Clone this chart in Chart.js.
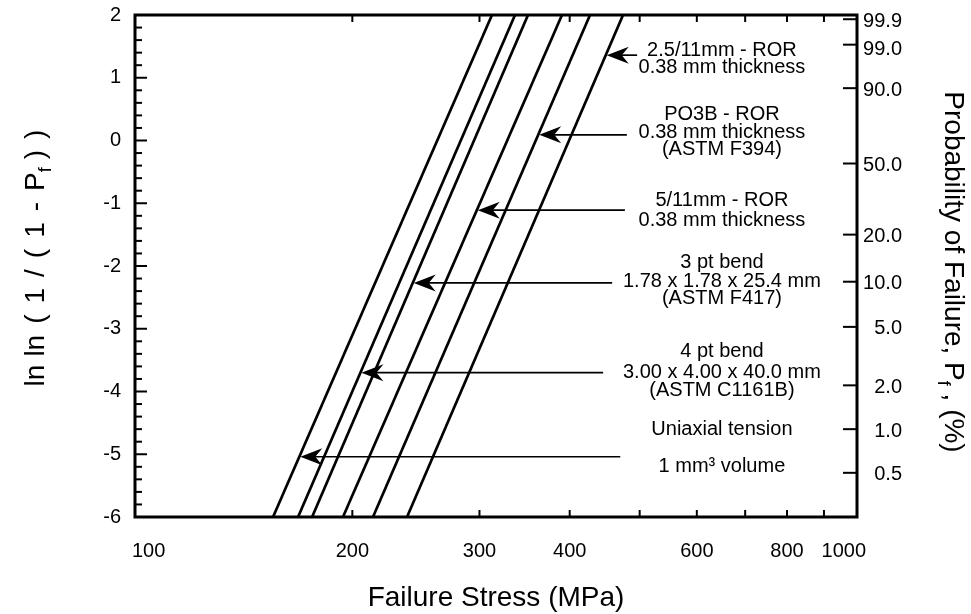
<!DOCTYPE html>
<html><head><meta charset="utf-8">
<script src="https://cdn.jsdelivr.net/npm/chart.js@4.4.1/dist/chart.umd.min.js"></script>
<style>html,body{margin:0;padding:0;background:#fff}</style>
</head><body>
<canvas id="c" width="971" height="614" style="width:971px;height:614px;display:block"></canvas>
<script>
// ---- data ----
const seriesNames = ['Uniaxial tension', '4 pt bend', '3 pt bend', '5/11mm - ROR', 'PO3B - ROR', '2.5/11mm - ROR'];
const stressLow  = [155.3, 168.2, 175.9, 194.1, 213.6, 238.1];   // MPa at ln ln = -6
const stressHigh = [312.2, 336.0, 350.2, 390.3, 426.8, 474.2];   // MPa at ln ln = 2
const lnlnRange = [-6, 2];
const xLabelValues = [100, 200, 300, 400, 600, 800, 1000];
const xTickMarks = [200, 300, 400, 500, 600, 700, 800, 900];
const yLabelValues = [2, 1, 0, -1, -2, -3, -4, -5, -6];
const probValues = [99.9, 99.0, 90.0, 50.0, 20.0, 10.0, 5.0, 2.0, 1.0, 0.5];
const probLabels = ['99.9', '99.0', '90.0', '50.0', '20.0', '10.0', '5.0', '2.0', '1.0', '0.5'];
const arrowLevels = [-5.04, -3.70, -2.27, -1.11, 0.09, 1.36];
const arrowTails  = [470, 445, 458, 477, 480, 496];
const noteLines = [
  ['Uniaxial tension', '1 mm\u00B3 volume'],
  ['4 pt bend', '3.00 x 4.00 x 40.0 mm', '(ASTM C1161B)'],
  ['3 pt bend', '1.78 x 1.78 x 25.4 mm', '(ASTM F417)'],
  ['5/11mm - ROR', '0.38 mm thickness'],
  ['PO3B - ROR', '0.38 mm thickness', '(ASTM F394)'],
  ['2.5/11mm - ROR', '0.38 mm thickness']
];
const noteLevels = [
  [-4.61, -5.20],
  [-3.37, -3.69, -3.98],
  [-1.94, -2.25, -2.51],
  [-0.96, -1.28],
  [0.41, 0.12, -0.15],
  [1.44, 1.16]
];
const noteCenterStress = 650;

// ---- styles ----
const FONT = '"Liberation Sans", Arial, Helvetica, sans-serif';
const TICK_FONT = '20px ' + FONT;
const NOTE_FONT = '20px ' + FONT;
const TITLE_SIZE = 28;

const datasets = seriesNames.map((n, i) => ({
  label: n,
  data: [{x: stressLow[i], y: lnlnRange[0]}, {x: stressHigh[i], y: lnlnRange[1]}],
  borderColor: '#000',
  borderWidth: 2.7,
  pointRadius: 0,
  fill: false,
  tension: 0
}));

function lnln(p) { return Math.log(-Math.log(1 - p / 100)); }

// parts: {t, sub}, gap = extra px after each part
function drawRich(ctx, parts, cx, cy, size, gap) {
  let total = 0;
  const sub = Math.round(size * 0.66);
  parts.forEach((p, i) => {
    ctx.font = (p.sub ? sub : size) + 'px ' + FONT;
    p.w = ctx.measureText(p.t).width + (i < parts.length - 1 ? (p.g !== undefined ? p.g : gap) : 0);
    total += p.w;
  });
  let x = cx - total / 2;
  ctx.textAlign = 'left';
  ctx.textBaseline = 'middle';
  parts.forEach(p => {
    ctx.font = (p.sub ? sub : size) + 'px ' + FONT;
    ctx.fillText(p.t, x, cy + (p.sub ? size * 0.36 : 0));
    x += p.w;
  });
}

const decor = {
  id: 'decor',
  afterDatasetsDraw(chart) {
    const ctx = chart.ctx, a = chart.chartArea;
    const xs = chart.scales.x, ys = chart.scales.y;
    ctx.save();
    ctx.strokeStyle = '#000'; ctx.fillStyle = '#000';
    // frame
    ctx.lineWidth = 3;
    ctx.strokeRect(a.left, a.top, a.right - a.left, a.bottom - a.top);
    // left ticks
    ctx.lineWidth = 2;
    for (let k = 0; k <= 40; k++) {
      const v = -6 + k * 0.2;
      const y = ys.getPixelForValue(v);
      const len = (k % 5 === 0) ? 12 : 7;
      ctx.beginPath(); ctx.moveTo(a.left, y); ctx.lineTo(a.left + len, y); ctx.stroke();
    }
    // top/bottom ticks
    xTickMarks.forEach(v => {
      const x = xs.getPixelForValue(v);
      ctx.beginPath(); ctx.moveTo(x, a.bottom); ctx.lineTo(x, a.bottom - 7); ctx.stroke();
      ctx.beginPath(); ctx.moveTo(x, a.top); ctx.lineTo(x, a.top + 7); ctx.stroke();
    });
    // right ticks
    probValues.forEach(p => {
      const y = ys.getPixelForValue(lnln(p));
      ctx.beginPath(); ctx.moveTo(a.right - 14, y); ctx.lineTo(a.right, y); ctx.stroke();
    });
    // left labels
    ctx.font = TICK_FONT; ctx.textAlign = 'right'; ctx.textBaseline = 'middle';
    yLabelValues.forEach(v => ctx.fillText(String(v), a.left - 14, ys.getPixelForValue(v)));
    // bottom labels
    xLabelValues.forEach((v, i) => {
      let x = xs.getPixelForValue(v);
      ctx.textAlign = 'center';
      if (i === 0) { ctx.textAlign = 'left'; x -= 3; }
      if (i === xLabelValues.length - 1) { ctx.textAlign = 'right'; x += 9; }
      ctx.fillText(String(v), x, a.bottom + 34);
    });
    // right labels
    ctx.textAlign = 'right';
    probValues.forEach((p, i) => {
      let y = ys.getPixelForValue(lnln(p));
      if (i === 1) y += 3;
      ctx.fillText(probLabels[i], a.right + 45, y + 2);
    });
    // titles
    ctx.font = TITLE_SIZE + 'px ' + FONT; ctx.textAlign = 'center'; ctx.textBaseline = 'middle';
    ctx.fillText('Failure Stress (MPa)', (a.left + a.right) / 2, a.bottom + 81);
    ctx.save();
    ctx.translate(36, (a.top + a.bottom) / 2 - 8);
    ctx.rotate(-Math.PI / 2);
    drawRich(ctx, [
      {t: 'ln', g: 8}, {t: 'ln'}, {t: '('}, {t: '1'}, {t: '/'}, {t: '('}, {t: '1'}, {t: '-'},
      {t: 'P', g: 0}, {t: 'f', sub: true, g: 8}, {t: ')'}, {t: ')'}
    ], 0, 0, TITLE_SIZE, 11);
    ctx.restore();
    ctx.save();
    ctx.translate(953, (a.top + a.bottom) / 2 + 6);
    ctx.rotate(Math.PI / 2);
    drawRich(ctx, [{t: 'Probability of Failure, P', g: 0}, {t: 'f', sub: true, g: 0}, {t: ' , (%)'}], 0, 0, TITLE_SIZE, 0);
    ctx.restore();
    // arrows
    arrowLevels.forEach((lv, i) => {
      const frac = (lv - lnlnRange[0]) / (lnlnRange[1] - lnlnRange[0]);
      const sx = Math.exp(Math.log(stressLow[i]) + frac * (Math.log(stressHigh[i]) - Math.log(stressLow[i])));
      const tx = xs.getPixelForValue(sx) + 1;
      const ty = ys.getPixelForValue(lv);
      const tail = xs.getPixelForValue(arrowTails[i]);
      ctx.lineWidth = 1.7;
      ctx.beginPath(); ctx.moveTo(tx + 14, ty); ctx.lineTo(tail, ty); ctx.stroke();
      ctx.beginPath();
      ctx.moveTo(tx, ty);
      ctx.lineTo(tx + 22, ty - 8.5);
      ctx.lineTo(tx + 15, ty);
      ctx.lineTo(tx + 22, ty + 8.5);
      ctx.closePath(); ctx.fill();
    });
    // notes
    ctx.font = NOTE_FONT; ctx.textAlign = 'center'; ctx.textBaseline = 'middle';
    const nx = xs.getPixelForValue(noteCenterStress);
    noteLines.forEach((lines, i) => {
      lines.forEach((t, j) => ctx.fillText(t, nx, ys.getPixelForValue(noteLevels[i][j])));
    });
    ctx.restore();
  }
};

new Chart(document.getElementById('c'), {
  type: 'line',
  data: { datasets },
  options: {
    responsive: false,
    animation: false,
    devicePixelRatio: 1,
    layout: { padding: { left: 135, right: 114, top: 15, bottom: 97 } },
    plugins: { legend: { display: false }, tooltip: { enabled: false } },
    scales: {
      x: { type: 'logarithmic', min: 100, max: 1000, display: false },
      y: { type: 'linear', min: lnlnRange[0], max: lnlnRange[1], display: false }
    }
  },
  plugins: [decor]
});
</script>
</body></html>
